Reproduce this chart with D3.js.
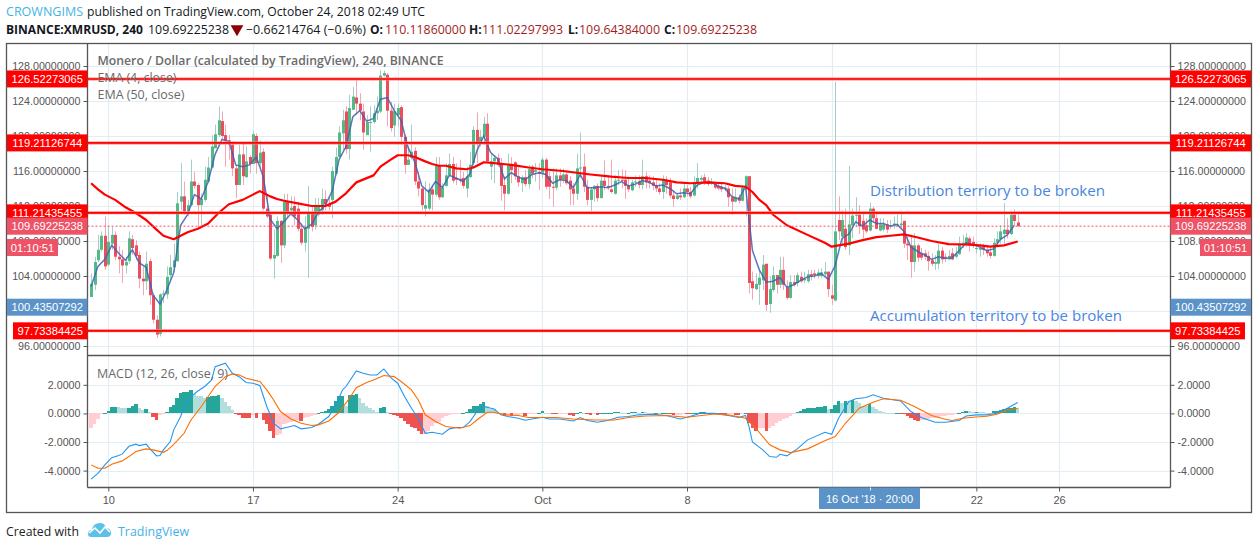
<!DOCTYPE html>
<html><head><meta charset="utf-8">
<script src="https://cdn.jsdelivr.net/npm/d3@7"></script>
<style>html,body{margin:0;padding:0;background:#fff}svg{display:block}</style>
</head><body><svg id="c" width="1258" height="549"></svg>
<script>
const opens=[101.6,103.0,105.8,107.0,108.6,105.3,107.7,108.7,106.2,105.9,
105.2,105.7,108.2,107.5,106.4,103.7,103.4,105.7,101.8,99.0,
97.4,101.9,101.9,104.1,105.0,105.7,112.5,113.1,111.4,112.1,
114.8,114.4,112.1,112.7,114.8,116.4,118.6,120.1,121.7,120.1,
119.5,119.0,116.3,114.4,117.9,115.3,117.6,116.8,120.0,116.9,
118.2,111.7,111.0,106.0,106.3,110.3,107.5,112.5,111.5,112.0,
111.7,109.4,107.8,109.4,111.1,109.8,111.0,111.5,112.8,112.2,
112.7,115.7,117.6,120.3,122.8,118.5,123.0,124.4,123.7,122.8,
120.1,121.6,121.6,122.6,122.8,126.9,127.0,122.9,121.2,122.4,
123.3,119.9,116.7,117.5,118.3,114.8,114.0,111.7,111.7,113.9,
113.3,116.6,113.0,114.3,115.5,116.8,115.2,115.1,115.2,114.0,
115.3,116.9,120.7,119.2,119.9,121.4,116.5,117.1,117.5,116.9,
114.4,113.4,116.7,117.0,115.4,114.6,115.3,114.5,116.5,115.9,
115.9,115.8,117.3,115.4,114.2,114.1,115.5,115.0,115.6,114.9,
114.0,113.4,116.3,116.5,114.2,112.7,113.9,114.3,112.9,114.9,
114.3,113.9,113.4,114.9,115.0,115.0,114.3,113.8,114.7,114.8,
114.4,115.4,114.9,114.7,114.4,114.0,113.6,115.0,114.7,113.2,
112.8,113.2,113.0,114.0,113.6,113.2,114.7,115.0,115.3,114.9,
114.6,114.5,114.3,114.2,113.9,114.0,113.0,112.5,113.0,112.6,
114.0,115.4,103.4,102.5,103.0,103.5,105.4,100.8,102.4,104.1,
103.0,104.7,102.7,101.5,103.3,103.2,103.9,103.5,103.4,104.2,
104.3,104.0,104.0,104.2,104.5,101.8,101.2,110.4,108.5,109.4,
107.5,109.8,110.9,111.0,110.3,109.8,109.2,111.7,110.6,109.2,
109.3,109.9,109.8,109.8,109.8,109.8,110.3,107.7,107.5,105.6,
107.5,106.6,106.6,106.3,105.8,105.4,105.4,106.9,106.2,105.9,
106.6,106.2,106.5,107.7,107.6,108.3,107.9,107.2,107.0,107.3,
107.0,106.7,106.3,107.8,108.2,108.8,109.3,108.8,111.0,110.12];
const highs=[104.3,106.2,108.7,109.1,110.8,109.6,109.6,109.1,107.4,107.0,
106.2,109.1,108.7,108.1,106.8,105.1,106.8,106.0,102.0,99.5,
102.0,102.4,105.1,106.4,107.7,113.6,116.9,114.8,112.7,117.3,
115.9,114.6,113.4,116.5,117.6,120.1,121.3,123.4,122.8,121.3,
120.1,119.4,116.7,119.0,119.2,118.8,117.8,120.6,120.3,119.5,
118.6,113.4,111.2,109.3,110.8,110.4,113.4,113.4,113.1,113.1,
112.5,110.0,110.8,114.3,111.9,112.9,112.9,114.0,113.8,113.1,
116.5,118.7,121.1,123.0,123.4,124.7,125.6,126.6,124.9,123.7,
122.4,123.4,123.5,124.5,127.5,127.5,127.2,123.9,123.7,123.7,
123.5,120.1,118.8,121.3,118.7,115.9,114.2,114.8,114.6,114.4,
117.6,117.6,114.6,116.9,118.0,117.6,116.9,117.3,115.9,116.5,
118.2,121.1,122.7,120.7,122.2,122.6,118.0,117.8,118.0,117.5,
115.4,118.0,117.6,117.1,116.7,115.5,116.1,116.7,116.7,116.9,
116.9,117.6,117.5,115.9,116.3,116.3,116.3,116.3,116.1,115.4,
114.6,118.0,120.4,118.0,115.0,114.2,114.4,114.6,115.5,117.2,
115.4,117.3,115.5,116.1,116.2,116.1,115.4,115.0,115.5,115.5,
117.3,115.9,115.5,115.4,115.0,114.6,115.5,115.4,115.2,113.8,
113.4,114.0,114.6,114.4,114.2,115.4,116.9,115.5,115.7,115.3,
115.2,114.8,114.6,114.6,114.4,114.3,114.0,114.0,113.3,114.4,
115.5,115.4,104.5,104.3,104.7,106.4,105.4,103.9,105.1,104.1,
106.2,106.2,103.5,104.1,104.1,104.4,104.5,104.5,104.7,104.7,
104.7,104.8,104.9,105.6,104.5,103.0,126.2,113.1,111.5,111.7,
116.6,111.7,113.0,112.1,111.2,110.6,112.4,111.9,111.4,110.6,
110.6,110.4,110.4,110.8,111.0,111.1,110.3,108.5,108.7,108.9,
107.7,107.2,107.0,106.8,106.6,106.4,107.7,107.3,106.6,107.0,
107.2,107.3,108.5,108.7,108.9,108.5,108.5,107.9,107.7,107.7,
107.5,107.2,108.3,109.1,109.8,112.3,110.6,111.3,111.6,111.02];
const lows=[101.6,102.4,105.6,106.8,104.7,105.1,107.0,105.8,104.3,103.2,
104.3,105.4,106.4,105.8,102.6,101.8,102.4,100.7,98.6,96.9,
97.1,100.9,101.4,103.5,104.5,105.6,111.5,111.0,110.8,111.9,
114.0,109.6,109.8,112.5,114.6,116.3,118.6,119.9,119.7,116.5,
117.3,115.4,112.9,114.4,114.4,115.2,115.7,116.8,115.7,116.5,
111.5,110.6,105.8,103.7,106.2,105.5,107.2,110.6,111.0,109.8,
109.1,107.5,106.8,103.8,109.1,109.3,110.8,111.0,111.5,111.5,
110.6,115.5,117.6,118.4,118.0,117.3,123.0,122.4,121.8,118.4,
120.1,118.2,121.4,121.8,122.6,126.8,121.1,120.5,119.9,121.1,
119.0,115.7,116.7,117.3,114.4,113.1,111.5,110.8,111.5,111.5,
113.1,112.7,112.9,114.2,115.4,114.6,114.4,114.6,114.0,113.0,
115.2,116.7,116.9,118.8,119.0,116.9,115.0,114.6,116.5,112.6,
111.5,113.3,114.6,115.0,114.2,113.6,114.2,114.0,115.2,114.8,
113.8,115.2,113.9,112.8,111.9,113.8,114.2,114.6,114.4,112.1,
112.1,112.7,115.2,113.6,112.1,111.4,112.5,112.5,112.9,113.8,
113.8,113.4,113.3,114.4,114.0,112.8,113.6,113.7,114.2,114.0,
113.9,114.0,114.0,113.8,113.6,113.3,112.8,113.4,112.9,111.9,
112.7,112.7,112.9,113.1,112.9,113.1,114.0,114.6,114.4,114.3,
114.4,113.9,113.8,113.6,113.7,111.9,111.0,112.4,112.3,112.5,
110.8,102.0,101.3,102.4,100.7,102.4,100.0,99.8,102.2,102.0,
102.6,102.4,101.3,101.4,102.8,102.8,103.2,103.2,103.2,103.5,
103.7,103.7,103.8,103.9,101.6,100.7,101.1,108.1,107.7,107.0,
106.4,108.3,109.6,108.8,108.3,108.9,109.1,110.2,109.3,109.1,
109.1,108.9,109.4,109.4,109.6,109.4,107.2,105.8,103.8,104.5,
105.6,105.8,105.8,104.6,105.1,104.7,104.8,105.4,105.6,105.8,
105.8,106.0,106.4,107.2,107.3,106.8,107.2,106.6,106.2,106.4,
106.2,106.0,106.2,107.3,107.7,107.7,108.3,108.7,109.8,109.64];
const closes=[103.1,105.6,107.0,108.6,105.1,107.9,108.7,106.2,105.9,105.2,
105.6,108.3,107.2,106.3,103.7,103.4,105.4,101.8,99.0,97.3,
101.9,102.0,103.9,105.0,105.8,112.3,113.1,111.4,112.1,114.8,
114.3,112.1,112.8,115.0,116.4,118.8,120.2,121.8,120.0,119.5,
119.0,116.3,114.4,117.9,115.4,117.1,116.8,120.2,116.9,118.1,
111.7,110.8,106.0,106.4,110.3,107.5,112.5,111.2,111.8,110.8,
109.4,107.8,109.5,111.1,109.6,112.1,112.1,112.8,112.2,111.9,
116.0,117.6,120.4,121.8,118.5,123.2,124.5,123.7,122.9,120.4,
121.6,121.6,122.6,122.9,126.9,127.2,122.9,120.9,122.8,123.2,
119.9,116.7,117.3,118.2,114.8,114.0,112.1,112.1,113.9,113.3,
116.7,113.0,114.1,115.5,116.8,114.9,115.0,114.9,114.3,115.4,
116.7,120.7,119.2,119.9,121.4,117.1,117.1,117.5,116.7,114.3,
113.4,116.7,116.1,115.4,114.7,115.3,114.5,116.2,115.7,116.1,
115.7,117.3,114.2,114.2,114.1,115.5,115.0,115.6,114.6,113.9,
113.4,116.3,116.4,114.2,112.7,113.9,114.3,112.9,114.9,114.3,
114.1,113.6,114.9,115.0,114.9,114.3,113.9,114.7,114.8,114.4,
115.4,114.7,114.6,114.3,114.0,113.6,115.0,114.4,113.2,112.8,
113.2,113.0,114.0,113.6,113.1,114.7,115.2,115.2,114.7,114.5,
114.8,114.1,114.0,113.9,114.1,113.0,112.5,113.0,112.6,114.1,
115.4,103.2,102.6,103.1,103.8,105.3,100.7,102.5,104.1,103.0,
104.7,103.0,101.5,103.3,103.0,104.1,103.4,103.7,104.2,104.0,
104.1,104.4,104.4,104.5,102.5,101.4,109.1,109.1,110.4,107.3,
109.9,110.9,111.0,109.7,109.3,109.1,111.7,110.6,109.4,109.9,
109.9,109.3,109.8,110.0,109.9,110.0,107.7,107.5,105.6,107.5,
106.1,106.1,106.2,105.7,105.4,105.6,106.9,105.9,106.0,106.3,
105.9,106.5,107.7,107.8,108.4,107.5,107.5,107.2,107.2,107.0,
106.6,106.3,107.8,108.2,109.1,109.3,108.8,111.0,110.3,109.69];
// EMA(4) read at every second candle, from candle 0
const ema4=[102.8,105.1,105.9,107.5,106.6,105.8,107.0,105.5,105.0,101.8,100.8,102.4,104.4,109.8,111.0,113.3,112.8,114.8,117.9,119.6,
119.4,116.7,116.5,116.7,117.6,115.3,110.5,109.4,110.2,111.1,110.4,109.4,109.9,111.3,112.1,113.7,117.3,118.8,122.2,122.9,
121.7,122.0,124.2,124.4,122.9,121.8,118.7,117.0,114.3,113.6,114.8,114.1,115.5,115.2,114.8,115.7,118.3,120.0,118.1,117.4,
115.1,115.8,115.3,115.0,115.6,115.8,115.6,114.6,115.0,114.9,114.1,115.6,114.1,114.1,114.2,114.1,114.4,114.8,114.3,114.5,
114.9,114.7,114.3,114.4,114.0,113.4,113.5,113.4,114.4,114.7,114.7,114.3,114.0,113.1,112.8,114.2,106.9,104.7,103.3,103.4,
103.8,102.7,103.0,103.5,103.9,104.0,104.3,103.6,105.2,108.3,108.8,110.2,109.7,110.4,110.0,110.0,109.7,109.9,109.1,107.3,
106.8,106.4,105.9,106.2,106.0,106.1,106.9,107.8,107.6,107.3,106.9,107.1,108.2,108.7,109.8];
const ema50Bars=[0,2,4,7,10,13,16,19,21,24,26,28,31,34,37,40,44,47,49,52,54,56,60,64,68,71,74,77,82,84,87,89,92,94,97,99,
101,103,106,109,111,114,117,122,127,131,137,141,145,151,156,161,166,170,174,179,184,187,190,192,194,196,198,202,208,213,215,217,220,224,228,232,236,240,244,249,254,258,261,265,269];
const ema50=[114.6,113.9,113.3,112.7,111.85,111.2,110.4,109.3,108.6,108.2,108.6,109.0,109.4,110.0,111.2,112.2,112.7,113.3,113.7,113.1,112.8,112.6,112.3,112.0,112.0,112.5,113.45,114.7,115.5,116.5,117.3,117.8,117.8,117.6,117.1,116.8,
116.6,116.6,116.3,116.2,116.4,117.0,116.9,116.7,116.4,116.2,116.0,115.8,115.6,115.35,115.2,115.2,115.0,114.7,114.6,114.7,114.6,114.3,114.2,113.6,112.7,112.1,111.0,109.8,108.7,107.8,107.35,107.5,107.7,108.1,108.45,108.6,108.75,108.4,108.0,107.65,107.6,107.5,107.35,107.5,107.95];
const macdBars=[0,2,4,6,8,9,11,13,14,16,17,19,20,21,23,24,26,27,29,31,33,35,36,39,41,43,45,47,49,51,53,55,57,59,61,64,66,69,71,73,74,77,79,81,83,85,87,89,91,93,95,97,99,102,104,106,108,110,112,114,117,119,121,124,126,128,131,133,136,140,142,144,147,150,153,156,159,163,167,171,173,177,181,185,188,190,191,192,195,197,199,200,202,205,208,213,215,217,220,222,225,227,230,235,238,241,245,248,252,254,257,260,263,266,269];
const macd=[-4.6,-4.2,-3.6,-3.1,-2.95,-2.85,-2.3,-2.15,-2.25,-2.15,-2.45,-2.97,-2.95,-2.55,-1.97,-1.15,-0.22,0.48,1.18,1.57,1.88,2.34,3.27,3.51,2.81,2.57,2.16,2.11,1.95,0.48,-0.69,-1.08,-0.97,-0.85,-1.08,-0.99,-0.76,-0.22,0.6,1.64,1.88,2.97,2.81,2.69,2.69,3.11,2.5,2.11,1.18,0.36,-0.34,-1.39,-1.32,-1.46,-1.08,-0.99,-0.99,-0.57,0.13,0.48,0.31,-0.1,-0.22,-0.34,-0.48,-0.39,-0.27,-0.39,-0.39,-0.53,-0.29,-0.5,-0.62,-0.5,-0.27,-0.22,-0.1,-0.06,-0.15,-0.39,-0.27,0.01,0,-0.15,-0.29,-0.15,-0.92,-2.0,-2.55,-3.02,-3.07,-2.86,-2.97,-2.48,-1.85,-1.32,-1.46,-0.34,0.83,1.02,1.11,1.3,1.06,0.87,0.13,-0.29,-0.62,-0.62,-0.5,-0.18,-0.1,-0.1,0.01,0.36,0.76];
const signalBars=[0,2,4,6,9,11,13,16,18,21,22,24,27,29,32,34,36,39,41,43,45,49,51,53,55,58,61,64,66,69,72,75,77,80,82,85,88,90,93,95,97,100,103,107,110,112,115,117,120,124,127,131,135,140,146,152,156,161,167,173,176,181,185,190,193,197,200,203,208,213,216,219,223,227,230,235,239,244,248,250,253,256,260,263,266,269];
const signal=[-3.6,-3.84,-3.84,-3.56,-3.32,-3.02,-2.67,-2.48,-2.55,-2.72,-2.6,-2.16,-1.39,-0.46,0.48,1.18,1.88,2.57,2.76,2.69,2.46,2.23,1.64,0.94,0.13,-0.39,-0.69,-0.85,-0.8,-0.53,0.08,1.06,1.8,2.16,2.34,2.65,2.57,2.23,1.64,0.94,-0.1,-0.57,-0.92,-1.04,-0.85,-0.46,0.08,0.08,-0.1,-0.15,-0.29,-0.29,-0.29,-0.39,-0.46,-0.46,-0.29,-0.18,-0.15,-0.27,-0.18,-0.04,-0.1,-0.34,-1.04,-2.2,-2.55,-2.74,-2.48,-1.92,-1.62,-0.69,0.36,0.78,1.02,0.92,0.48,-0.15,-0.41,-0.5,-0.34,-0.27,-0.2,-0.06,0.24,0.36];
const hist=[-1.0,-0.72,-0.42,-0.02,0.05,0.2,0.45,0.47,0.45,0.4,0.38,0.4,0.5,0.65,0.4,0.25,0.33,0.08,-0.25,-0.45,
-0.1,-0.02,0.1,0.45,0.62,1.1,1.45,1.47,1.5,1.65,1.35,1.25,1.2,1.1,1.15,1.2,1.25,1.32,1.1,0.8,
0.55,0.25,-0.03,-0.1,-0.3,-0.32,-0.34,-0.1,-0.3,-0.05,-0.45,-0.75,-1.2,-1.7,-1.5,-1.45,-0.75,-0.65,-0.6,-0.55,
-0.45,-0.52,-0.35,-0.28,-0.2,-0.12,0.05,0.12,0.2,0.3,0.5,0.9,1.2,1.25,0.55,1.3,1.32,1.34,1.05,0.7,
0.5,0.35,0.25,0.12,0.4,0.45,0.1,-0.03,-0.1,-0.2,-0.3,-0.55,-0.75,-0.95,-1.05,-1.2,-1.45,-1.45,-1.2,-0.9,
-0.7,-0.6,-0.35,-0.15,-0.1,-0.05,-0.02,-0.01,0.01,0.1,0.3,0.5,0.55,0.65,0.8,0.5,0.3,0.28,0.05,0.03,
-0.2,-0.1,-0.15,-0.15,-0.1,-0.05,-0.2,-0.05,-0.04,-0.03,0.01,0.15,0.05,0.01,-0.05,-0.07,-0.05,-0.05,-0.03,-0.1,
-0.15,0.01,0.12,0.05,-0.05,-0.08,-0.05,-0.12,0.01,0.01,0.02,0.03,0.1,0.12,0.05,0.01,0.05,0.12,0.12,0.05,
0.12,0.1,0.05,0.01,0.03,0.01,0.03,0.03,-0.05,-0.1,-0.1,-0.08,-0.03,-0.05,-0.07,0.02,0.05,0.1,0.12,0.05,
0.03,0.01,0.01,-0.03,-0.05,-0.05,-0.05,-0.08,-0.1,-0.02,0.05,-0.7,-1.05,-1.25,-1.05,-1.05,-1.2,-1.0,-0.85,-0.7,
-0.55,-0.4,-0.3,-0.15,-0.05,0.1,0.2,0.3,0.35,0.38,0.4,0.42,0.45,0.5,0.3,0.3,0.6,0.85,0.75,0.9,
0.88,0.95,0.85,0.75,0.55,0.5,0.65,0.45,0.3,0.2,0.12,0.05,0.02,0.01,0.01,-0.02,-0.05,-0.15,-0.3,-0.45,
-0.55,-0.45,-0.45,-0.4,-0.35,-0.3,-0.25,-0.2,-0.15,-0.12,-0.08,-0.03,0.05,0.1,0.18,0.15,0.12,0.12,0.1,0.08,
0.05,0.03,0.15,0.15,0.25,0.3,0.35,0.4,0.42,0.35];
const priceTicks=[96,100,104,108,112,116,120,124,128];
const macdTicks=[-4,-2,0,2];
const timeTicks=[[2018,8,10],[2018,8,17],[2018,8,24],[2018,9,1],[2018,9,8],[2018,9,15],[2018,9,22],[2018,9,26]];
const timeLabels=["10","17","24","Oct","8","","22","26"];
const levels=[126.52273065,119.21126744,111.21435455,97.73384425];
const levelLabels=["126.52273065","119.21126744","111.21435455","97.73384425"];
const lastPrice=109.69225238;
const bluePrice=100.43507292;

const C={grid:'#e4edf4',axis:'#555',text:'#555',up:'#53b987',dn:'#eb4d5c',upW:'#a3cfc8',dnW:'#f5a6b0',
 blue:'#3f5fb5',red:'#ff0000',last:'#ee5266',tag:'#5b93c9',mac:'#2196f3',sig:'#ff6d00',
 hUp:'#26a69a',hUpL:'#b2dfdb',hDn:'#ef5350',hDnL:'#ffcdd2',note:'#4a86e0'};
const L=87.5,R=1170.5,T=43.5,S=355.5,B=487.5;
const t0=Date.UTC(2018,8,10), H4=4*3600e3;
const barDate=i=>new Date(t0+(i-5)*H4);
const x=d3.scaleUtc().domain([new Date(t0),new Date(Date.UTC(2018,9,24))]).range([108.3,1017.7]);
const bx=i=>x(barDate(i));
const y=d3.scaleLinear().domain([96,128]).range([346,66]);
const ym=d3.scaleLinear().domain([-4,2]).range([470.6,384.8]);
const svg=d3.select('#c');
svg.append('rect').attr('width',1258).attr('height',549).attr('fill','#fff');

// grid
const grid=svg.append('g').attr('stroke',C.grid).attr('stroke-width',1.2);
priceTicks.forEach(v=>grid.append('line').attr('x1',L).attr('x2',R).attr('y1',Math.round(y(v))+.5).attr('y2',Math.round(y(v))+.5));
macdTicks.forEach(v=>grid.append('line').attr('x1',L).attr('x2',R).attr('y1',Math.round(ym(v))+.5).attr('y2',Math.round(ym(v))+.5));
const tDates=timeTicks.map(d=>new Date(Date.UTC(...d)));
tDates.forEach(d=>{const p=Math.round(x(d))+.5;
 grid.append('line').attr('x1',p).attr('x2',p).attr('y1',T).attr('y2',S);
 grid.append('line').attr('x1',p).attr('x2',p).attr('y1',S).attr('y2',B);});

// histogram
const hx=i=>Math.round(bx(i)-1.72);
const y0=Math.round(ym(0));
svg.append('g').attr('shape-rendering','crispEdges').selectAll('rect').data(hist).join('rect')
 .attr('x',(d,i)=>hx(i)).attr('width',(d,i)=>hx(i+1)-hx(i))
 .attr('y',d=>Math.round(Math.min(ym(d),y0))).attr('height',d=>Math.max(1,Math.round(Math.abs(ym(d)-y0))))
 .attr('fill',(d,i)=>{const p=i?hist[i-1]:d; return d>=0?(d>=p?C.hUp:C.hUpL):(d<p?C.hDn:C.hDnL);});
const mline=d3.line().x(d=>bx(d[0])).y(d=>ym(d[1]));
svg.append('path').datum(macdBars.map((b,i)=>[b,macd[i]])).attr('d',mline).attr('fill','none').attr('stroke',C.mac).attr('stroke-width',1.1);
svg.append('path').datum(signalBars.map((b,i)=>[b,signal[i]])).attr('d',mline).attr('fill','none').attr('stroke',C.sig).attr('stroke-width',1.1);

// candles
const cg=svg.append('g');
cg.selectAll('line').data(closes).join('line')
 .attr('x1',(d,i)=>Math.round(bx(i))+.5).attr('x2',(d,i)=>Math.round(bx(i))+.5)
 .attr('y1',(d,i)=>y(highs[i])).attr('y2',(d,i)=>y(lows[i]))
 .attr('stroke',(d,i)=>d>=opens[i]?C.upW:C.dnW).attr('stroke-width',1);
cg.selectAll('rect').data(closes).join('rect')
 .attr('x',(d,i)=>Math.round(bx(i))-1).attr('width',3)
 .attr('y',(d,i)=>y(Math.max(d,opens[i])))
 .attr('height',(d,i)=>Math.max(1,Math.abs(y(d)-y(opens[i]))))
 .attr('fill',(d,i)=>d>=opens[i]?C.up:C.dn);
const pline=d3.line().x(d=>bx(d[0])).y(d=>y(d[1]));
svg.append('path').datum(ema4.map((v,i)=>[i*2,v])).attr('d',pline).attr('fill','none').attr('stroke',C.blue).attr('stroke-width',1.5).attr('stroke-opacity',.85);
svg.append('path').datum(ema50Bars.map((b,i)=>[b,ema50[i]])).attr('d',pline).attr('fill','none').attr('stroke',C.red).attr('stroke-width',2.2).attr('stroke-linejoin','round');

// axes
function styleAxis(g,size){g.select('.domain').remove();
 g.selectAll('line').attr('stroke',C.axis);
 g.selectAll('text').attr('fill',C.text).attr('font-family','"Liberation Sans",Arial,sans-serif').attr('font-size',size);}
const fP=v=>v===100?'':d3.format('.8f')(v), fM=v=>d3.format('.4f')(v).replace('\u2212','-');
const axes=[[d3.axisLeft(y),L],[d3.axisRight(y),R]];
axes.forEach(([a,p])=>svg.append('g').attr('transform',`translate(${p},0)`).call(a.tickFormat(fP).tickValues(priceTicks).tickSize(4).tickPadding(3)).call(styleAxis,10.7));
[[d3.axisLeft(ym),L],[d3.axisRight(ym),R]].forEach(([a,p])=>svg.append('g').attr('transform',`translate(${p},0)`).call(a.tickValues(macdTicks).tickFormat(fM).tickSize(4).tickPadding(3)).call(styleAxis,10.7));
svg.append('g').attr('transform',`translate(0,${B})`)
 .call(d3.axisBottom(x).tickValues(tDates).tickFormat((d,i)=>timeLabels[i]).tickSize(4).tickPadding(5)).call(styleAxis,11);

// price levels
const lv=svg.append('g');
levels.forEach(v=>{
 lv.append('line').attr('x1',L).attr('x2',R).attr('y1',y(v)).attr('y2',y(v)).attr('stroke','#ff8080').attr('stroke-width',3);
 lv.append('line').attr('x1',L).attr('x2',R).attr('y1',y(v)).attr('y2',y(v)).attr('stroke',C.red).attr('stroke-width',1.6);
 [[L-4,L],[R,R+4]].forEach(([a,b])=>lv.append('line').attr('x1',a).attr('x2',b).attr('y1',y(v)).attr('y2',y(v)).attr('stroke',C.axis));
});
lv.append('line').attr('x1',L).attr('x2',R).attr('y1',y(lastPrice)).attr('y2',y(lastPrice)).attr('stroke',C.last).attr('stroke-dasharray','2 2').attr('stroke-width',1);

// frame
const fr=svg.append('g').attr('stroke',C.axis).attr('stroke-width',1.3).attr('fill','none');
fr.append('rect').attr('x',6.5).attr('y',T).attr('width',1245).attr('height',469);
fr.append('line').attr('x1',L).attr('x2',L).attr('y1',T).attr('y2',B);
fr.append('line').attr('x1',R).attr('x2',R).attr('y1',T).attr('y2',B);
fr.append('line').attr('x1',L).attr('x2',R).attr('y1',S).attr('y2',S);
fr.append('line').attr('x1',L).attr('x2',R).attr('y1',B).attr('y2',B);

// badges
function badge(x0,x1,cy,fill,label,fw){
 svg.append('rect').attr('x',x0).attr('y',cy-8.5).attr('width',x1-x0).attr('height',17).attr('fill',fill);
 svg.append('text').attr('x',(x0+x1)/2).attr('y',cy+4).attr('text-anchor','middle').attr('fill','#fff')
  .attr('font-family','"Liberation Sans",Arial,sans-serif').attr('font-size',11.2).attr('font-weight',fw||400).text(label);
}
levels.forEach((v,i)=>{const s=levelLabels[i], w=i==3;
 badge(w?13:7,L,y(v),C.red,s); badge(R,w?1245:1251,y(v),C.red,s);});
[[7,L],[R,1251]].forEach(([a,b])=>{
 badge(a,b,y(lastPrice),C.last,lastPrice.toFixed(8));
 badge(a,b,y(bluePrice),C.tag,bluePrice.toFixed(8));});
badge(7,58,247.5,C.last,'01:10:51'); badge(1200,1251,247.5,C.last,'01:10:51');

// text helper
function tx(s,xp,yp,o={}){const t=svg.append('text').attr('x',xp).attr('y',yp)
 .attr('font-family',o.font||'"Open Sans",sans-serif').attr('font-size',o.size||12)
 .attr('font-weight',o.w||400).attr('fill',o.c||'#131722').text(s);
 if(o.len)t.attr('textLength',o.len).attr('lengthAdjust','spacingAndGlyphs');return t;}
tx('CROWNGIMS',6,16,{c:'#3fb4e6',size:12.5,len:77});
tx('published on TradingView.com, October 24, 2018 02:49 UTC',87,16,{size:12.5,len:338});
tx('BINANCE:XMRUSD, 240',6,34,{w:700,size:12,len:137});
tx('109.69225238',148,34,{size:12,len:81});
svg.append('path').attr('d',d3.symbol(d3.symbolTriangle,70)()).attr('transform','translate(237,29) rotate(180)').attr('fill','#8b0000');
tx('\u22120.66214764 (\u22120.6%)',246,34,{size:12,len:120});
[['O:',370,'110.11860000',385],['H:',469,'111.02297993',482],['L:',568,'109.64384000',579],['C:',664,'109.69225238',676]].forEach(a=>{
 tx(a[0],a[1],34,{w:700,size:12});
 tx(a[2],a[3],34,{size:12,len:81,c:'#a31d1d'});});

// legends
tx('Monero / Dollar (calculated by TradingView), 240, BINANCE',97.5,65,{size:12.5,w:600,c:'#6a6a6a',len:346});
tx('EMA (4, close)',97.5,82,{size:12,c:'#6a6a6a',len:79});
tx('EMA (50, close)',97.5,99,{size:12,c:'#6a6a6a',len:87});
tx('MACD (12, 26, close, 9)',97,378,{size:12,c:'#6a6a6a',len:131});
tx('Distribution terriory to be broken',870,196,{size:14.5,c:C.note,len:235});
tx('Accumulation territory to be broken',870,321,{size:14.5,c:C.note,len:252});

// cursor date tag
svg.append('rect').attr('x',819).attr('y',B).attr('width',101).attr('height',21.5).attr('fill',C.tag);
svg.append('line').attr('x1',870.5).attr('x2',870.5).attr('y1',B).attr('y2',B+3).attr('stroke','#e8f0f8');
svg.append('text').attr('x',869.5).attr('y',502.5).attr('text-anchor','middle').attr('fill','#fff')
 .attr('font-family','"Liberation Sans",Arial,sans-serif').attr('font-size',11).text("16 Oct '18 \u00b7 20:00");

// footer
tx('Created with',6,536,{size:12,c:'#222',len:73});
tx('TradingView',118,536,{size:12,c:'#45b0e6',len:71});
svg.append('path').attr('d','M88 534 Q88 530 92 530 Q93 523 100 523 Q105 523 106 528 Q111 528 111 533 Q111 537 107 537 L91 537 Q88 537 88 534 Z').attr('fill','#5cc0e8');
svg.append('path').attr('d','M89 533 L95 528 L100 533 L105 527 L110 532').attr('fill','none').attr('stroke','#fff').attr('stroke-width',1.6);
</script></body></html>
